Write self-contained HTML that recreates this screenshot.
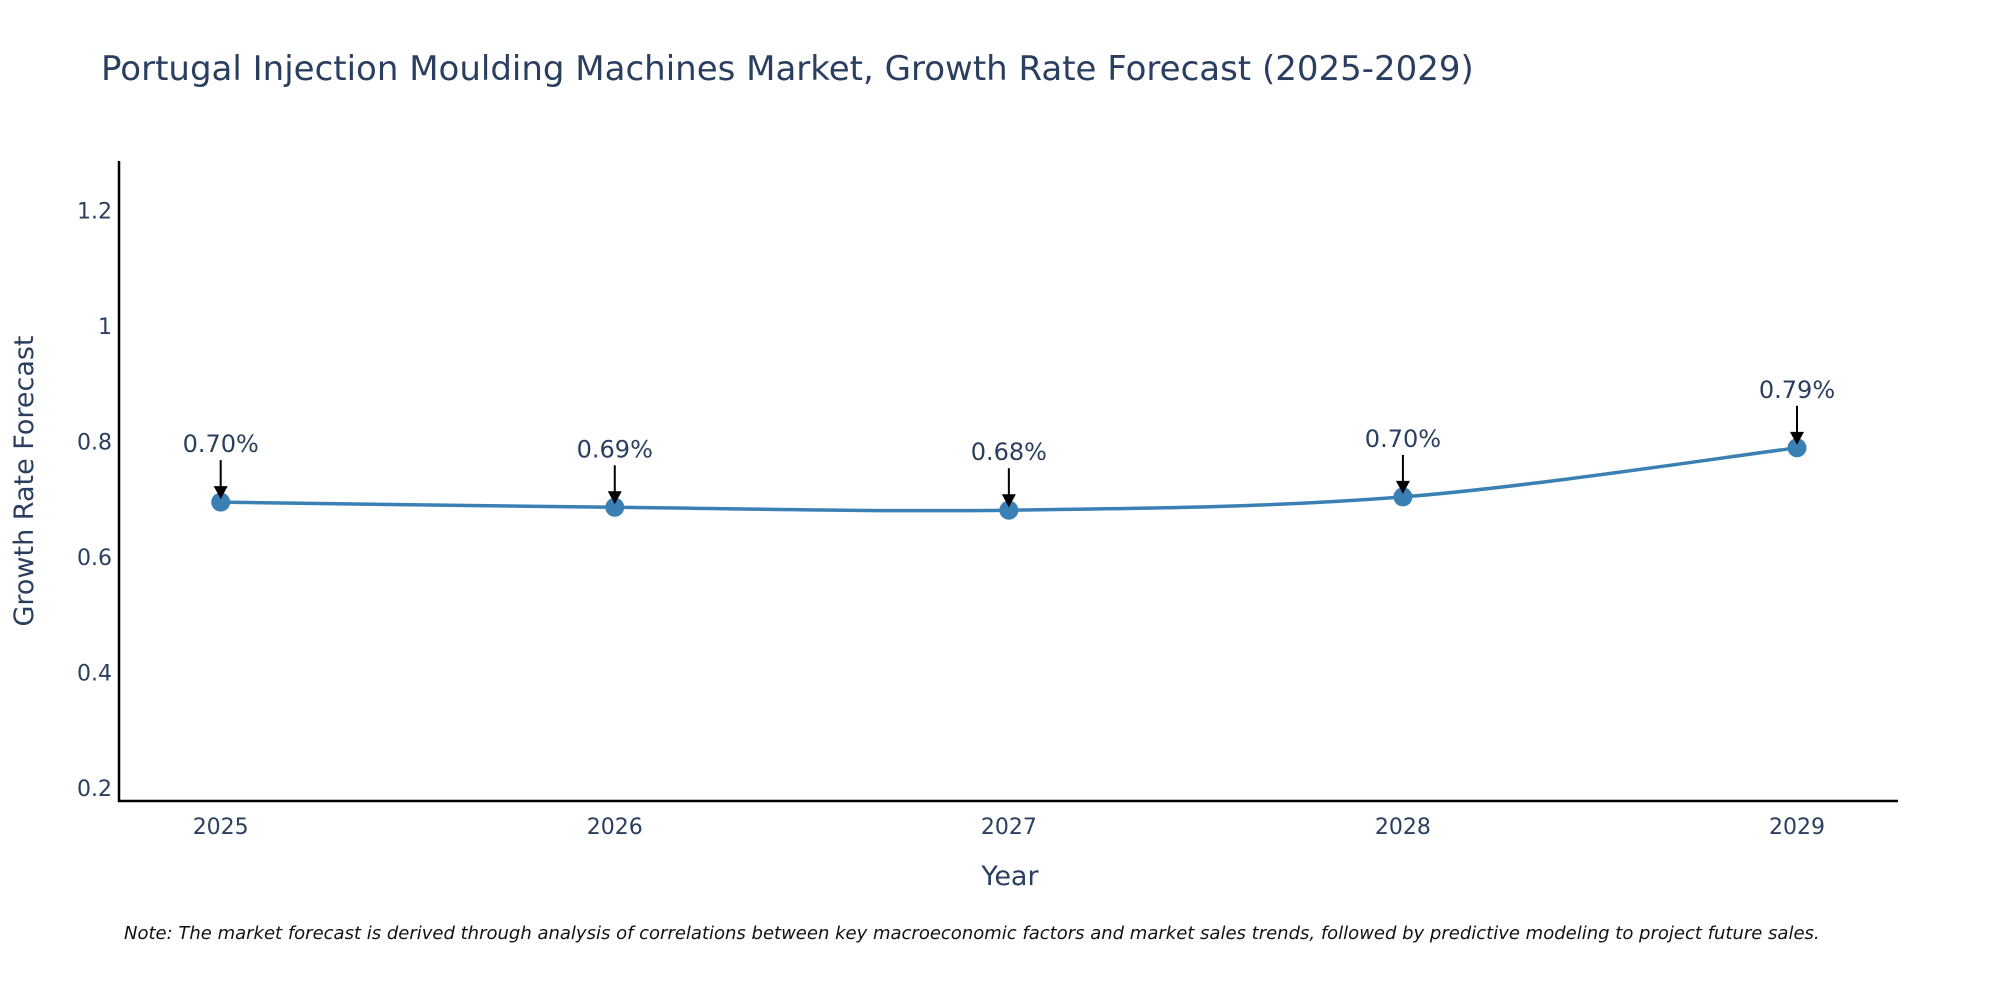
<!DOCTYPE html>
<html><head><meta charset="utf-8"><style>
body{margin:0;background:#fff;overflow:hidden;}
svg text{font-family:"DejaVu Sans","Liberation Sans",sans-serif;}
</style></head><body>
<svg id="chart" width="2000" height="1000" xmlns="http://www.w3.org/2000/svg">
<text x="101" y="80" font-size="34" fill="#2a3f5f">Portugal Injection Moulding Machines Market, Growth Rate Forecast (2025-2029)</text>
<g id="yticks"></g><g id="xticks"></g>
<line x1="119" y1="161" x2="119" y2="802" stroke="#000" stroke-width="2.5"/>
<line x1="118" y1="801" x2="1898" y2="801" stroke="#000" stroke-width="2.5"/>
<path id="line" fill="none" stroke="#3a80b5" stroke-width="3.5"/>
<g id="points"></g><g id="annots"></g>
<text x="1010" y="885" font-size="27" fill="#2a3f5f" text-anchor="middle">Year</text>
<text transform="translate(33,481) rotate(-90)" font-size="27" fill="#2a3f5f" text-anchor="middle">Growth Rate Forecast</text>
<text x="124" y="939" font-size="18" font-style="italic" fill="#111">Note: The market forecast is derived through analysis of correlations between key macroeconomic factors and market sales trends, followed by predictive modeling to project future sales.</text>
</svg>
<script>
const years=["2025","2026","2027","2028","2029"];
const values=[0.695,0.686,0.681,0.704,0.789];
const labels=["0.70%","0.69%","0.68%","0.70%","0.79%"];
const yTicks=[0.2,0.4,0.6,0.8,1,1.2];
const yTickLabels=["0.2","0.4","0.6","0.8","1","1.2"];
const NS="http://www.w3.org/2000/svg";
const yMin=0.1775,yMax=1.2856,pTop=161,pBot=801;
const xs=i=>220.7+i*(1797-220.7)/(years.length-1);
const ys=v=>pBot-(v-yMin)/(yMax-yMin)*(pBot-pTop);
function mk(t,a,parent,txt){const e=document.createElementNS(NS,t);for(const k in a)e.setAttribute(k,a[k]);if(txt!==undefined)e.textContent=txt;parent.appendChild(e);return e;}
const yg=document.getElementById('yticks');
yTicks.forEach((v,i)=>{const t=mk('text',{x:112,y:ys(v)+8,'font-size':22,fill:'#2a3f5f','text-anchor':'end'},yg,yTickLabels[i]);

});
const xg=document.getElementById('xticks');
years.forEach((y,i)=>{const t=mk('text',{x:xs(i),y:834,'font-size':22,fill:'#2a3f5f','text-anchor':'middle'},xg,y);

});
const P=values.map((v,i)=>[xs(i),ys(v)]);
let d=`M${P[0][0]},${P[0][1]}`;
for(let i=0;i<P.length-1;i++){const p0=P[Math.max(i-1,0)],p1=P[i],p2=P[i+1],p3=P[Math.min(i+2,P.length-1)];const k=1/6;
d+=` C${p1[0]+(p2[0]-p0[0])*k},${p1[1]+(p2[1]-p0[1])*k} ${p2[0]-(p3[0]-p1[0])*k},${p2[1]-(p3[1]-p1[1])*k} ${p2[0]},${p2[1]}`;}
document.getElementById('line').setAttribute('d',d);
const pg=document.getElementById('points'),ag=document.getElementById('annots');
P.forEach((p,i)=>{const c=mk('circle',{cx:p[0],cy:p[1],r:9.5,fill:'#3a80b5'},pg);


const l=mk('line',{x1:p[0],y1:p[1]-42,x2:p[0],y2:p[1]-14,stroke:'#000','stroke-width':2},ag);


const h=mk('polygon',{points:`${p[0]-7},${p[1]-16} ${p[0]+7},${p[1]-16} ${p[0]},${p[1]-3}`,fill:'#000'},ag);


const t=mk('text',{x:p[0],y:p[1]-50,'font-size':24,fill:'#2a3f5f','text-anchor':'middle'},ag,labels[i]);

});
</script>
</body></html>
